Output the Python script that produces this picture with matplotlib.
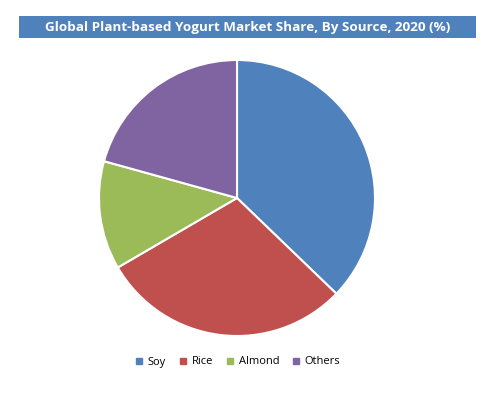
import matplotlib
matplotlib.use("Agg")
import matplotlib.pyplot as plt
from matplotlib.lines import Line2D
from matplotlib.patches import Rectangle

categories = ["Soy", "Rice", "Almond", "Others"]
shares = [37.2, 29.4, 12.7, 20.7]
colors = ["#4F81BD", "#C0504D", "#9BBB59", "#8064A2"]
title = "Global Plant-based Yogurt Market Share, By Source, 2020 (%)"

W, H = 499, 394
fig = plt.figure(figsize=(W/100, H/100), dpi=100)

# title bar
fig.patches.append(Rectangle((19/W, 1-38/H), (476-19)/W, 22/H, transform=fig.transFigure,
                             facecolor="#4F81BD", edgecolor="none", zorder=0))
fig.text(247.5/W, 1-27/H, title, ha="center", va="center", color="white",
         fontsize=9.7, fontweight="bold", family="Open Sans")

cx, cy, r = 237, 198, 138
ax = fig.add_axes([(cx-r)/W, 1-(cy+r)/H, 2*r/W, 2*r/H])
ax.pie(shares, colors=colors, startangle=90, counterclock=False,
       wedgeprops=dict(edgecolor="white", linewidth=1.5))
ax.set_xlim(-1, 1)
ax.set_ylim(-1, 1)
ax.set_aspect("equal")

handles = [Line2D([], [], marker="s", linestyle="none", markersize=4.5,
                  markerfacecolor=c, markeredgecolor=c) for c in colors]
fig.legend(handles, categories, loc="center", bbox_to_anchor=(237/W, 1-362/H),
           ncol=4, frameon=False, handletextpad=0.3, columnspacing=1.0,
           handlelength=1.0, prop={"family": "Open Sans", "size": 8})

fig.savefig("out.png", dpi=100)
